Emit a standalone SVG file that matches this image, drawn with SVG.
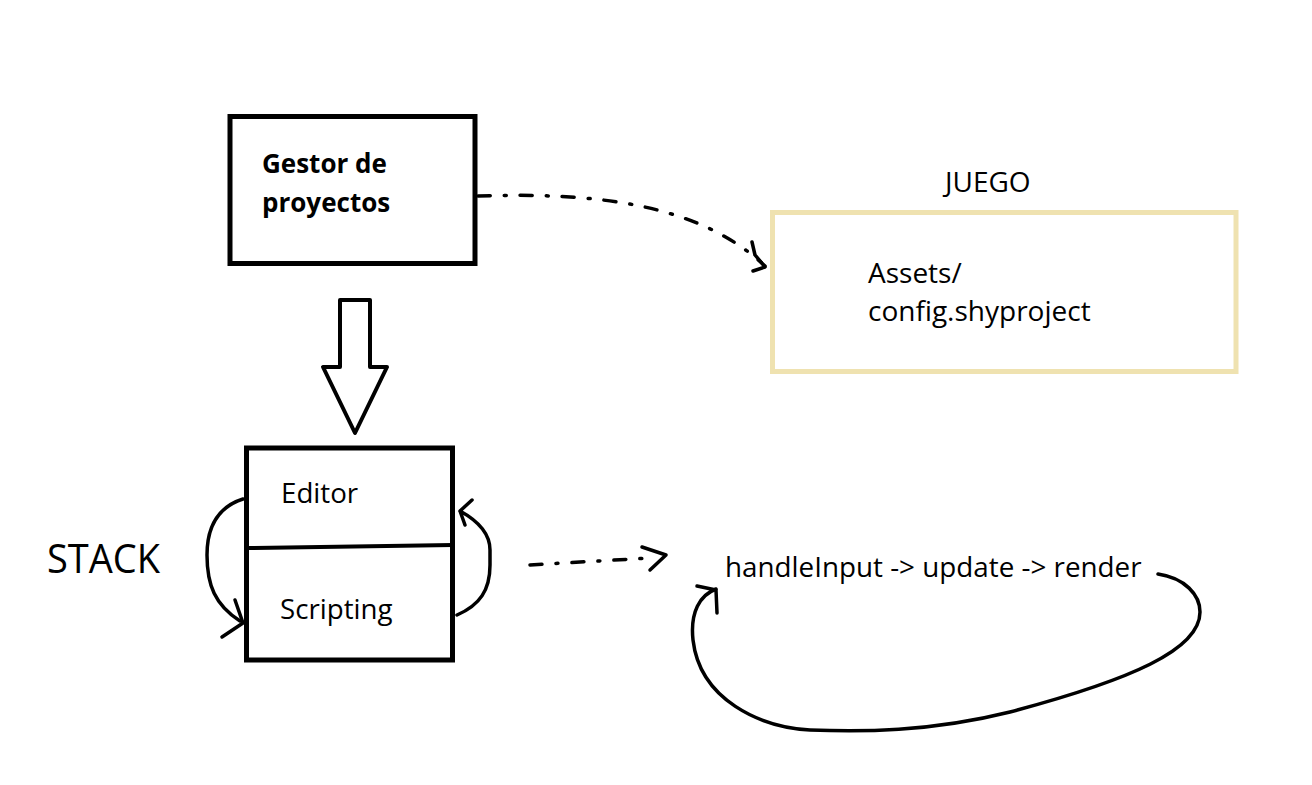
<svg xmlns="http://www.w3.org/2000/svg" width="1312" height="785" viewBox="0 0 1312 785">
<defs>
<style>
.box{fill:none;stroke:#000;stroke-width:5}
.ybox{fill:none;stroke:#efe2b0;stroke-width:5}
.t{font-family:"Open Sans","Noto Sans",sans-serif;fill:#000}
.b{font-weight:bold}
.ln{fill:none;stroke:#000;stroke-width:3.5;stroke-linecap:round;stroke-linejoin:round}
.dd{stroke-dasharray:12 14 2 14}
</style>
</defs>
<rect width="1312" height="785" fill="#fff"/>
<g id="gestor">
<rect class="box" x="230" y="116.5" width="245" height="147"/>
<text class="t b" x="262" y="173" font-size="26">Gestor de</text>
<text class="t b" x="262" y="212" font-size="26">proyectos</text>
</g>
<g id="juego">
<text class="t" x="945" y="192" font-size="28">JUEGO</text>
<rect class="ybox" x="772.5" y="212.5" width="463.5" height="159"/>
<text class="t" x="868" y="283" font-size="28">Assets/</text>
<text class="t" x="868" y="321" font-size="28">config.shyproject</text>
</g>
<g id="flecha">
<polygon points="340,300 370,300 370,367 387,367 355,433 323,367 340,367" fill="#fff" stroke="#000" stroke-width="4" stroke-linejoin="round"/>
</g>
<g id="editor">
<rect class="box" x="246.5" y="448" width="206" height="212"/>
<line x1="248" y1="548" x2="453" y2="545" stroke="#000" stroke-width="4"/>
<text class="t" x="281" y="503" font-size="27.7">Editor</text>
<text class="t" x="280" y="619" font-size="27.7">Scripting</text>
</g>
<g id="stack">
<text class="t" x="47" y="573" font-size="40" textLength="113" lengthAdjust="spacingAndGlyphs">STACK</text>
</g>
<g id="bucle">
<text class="t" x="725" y="577" font-size="27.8">handleInput -&gt; update -&gt; render</text>
</g>
<g id="connectors">
<path class="ln dd" d="M478,196 C600,192 700,205 765,266"/>
<path class="ln" d="M752,242 L755,255 L765,267 L753,271"/>
<path class="ln dd" d="M530,565 L650,558"/>
<path class="ln" d="M642,547 L666,555 L650,570"/>
<path class="ln" d="M243,499 C215,508 207,530 207,555 C207,585 215,605 240,621"/>
<path class="ln" d="M235,600 L243,623 L222,637"/>
<path class="ln" d="M457,615 C480,605 490,590 490,565 L490,550 C490,535 480,522 460,511 M472,500 L460,511 L465,525"/>
<path class="ln" d="M1158,574 C1185,578 1200,595 1200,612 C1200,650 1130,680 1010,712 C930,732 860,732 810,730 C760,727 700,700 693,640 C690,612 700,595 716,589"/>
<path class="ln" d="M697,586 L716,590 L717,613"/>
</g>
</svg>
